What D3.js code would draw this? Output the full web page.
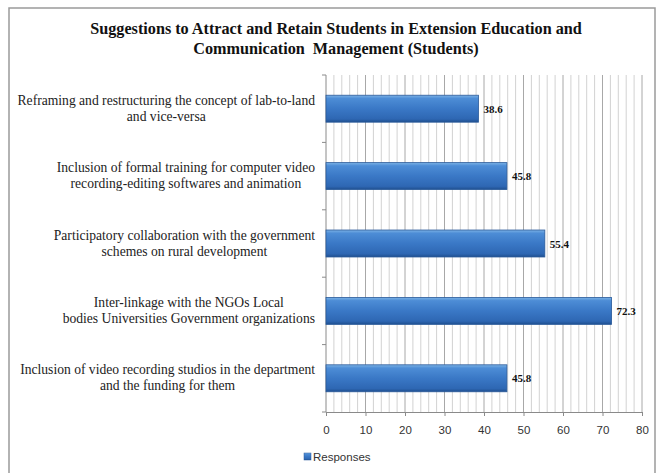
<!DOCTYPE html>
<html><head><meta charset="utf-8">
<script src="https://cdn.jsdelivr.net/npm/d3@7"></script>
<style>html,body{margin:0;padding:0;background:#fff;}svg{display:block;}
.serif{font-family:"Liberation Serif","Times New Roman","DejaVu Serif",serif;}
.sans{font-family:"Liberation Sans",Arial,sans-serif;}
</style>
</head><body>
<script>
const categories = [
  ["Reframing and restructuring the concept of lab-to-land", "and vice-versa"],
  ["Inclusion of formal training for computer video", "recording-editing softwares and animation"],
  ["Participatory collaboration with the government", "schemes on rural development"],
  ["Inter-linkage with the NGOs Local", "bodies Universities Government organizations"],
  ["Inclusion of video recording studios in the department", "and the funding for them"]
];
const values = [38.6, 45.8, 55.4, 72.3, 45.8];
const xTicks = [0, 10, 20, 30, 40, 50, 60, 70, 80];
const titleLines = ["Suggestions to Attract and Retain Students in Extension Education and", "Communication  Management (Students)"];
const seriesName = "Responses";

const W = 658, H = 473;
const svg = d3.select("body").append("svg").attr("width", W).attr("height", H);

svg.append("rect").attr("x", 9).attr("y", 8).attr("width", 646).attr("height", 480)
  .attr("fill", "#fff").attr("stroke", "#9a9a9a").attr("stroke-width", 1.5);

const m = {left: 326, right: 642, top: 75, bottom: 412};
const x = d3.scaleLinear().domain([0, 80]).range([m.left, m.right]);
const y = d3.scaleBand().domain(d3.range(categories.length)).range([m.top, m.bottom]).paddingInner(0.6).paddingOuter(0.3);

const defs = svg.append("defs");
const g = defs.append("linearGradient").attr("id", "barg").attr("x1", 0).attr("y1", 0).attr("x2", 0).attr("y2", 1);
[[0, "#7db3e6"], [0.12, "#4d8dd6"], [0.5, "#3a78c6"], [0.88, "#2e67b3"], [1, "#1f4f8f"]].forEach(([o, c]) =>
  g.append("stop").attr("offset", o).attr("stop-color", c));

const minor = d3.range(2, 81, 2).filter(v => v % 10 !== 0);
svg.append("g").selectAll("line").data(minor).join("line")
  .attr("x1", d => x(d)).attr("x2", d => x(d)).attr("y1", m.top).attr("y2", m.bottom)
  .attr("stroke", "#d2d2d2").attr("stroke-width", 1);
svg.append("g").selectAll("line").data(xTicks.slice(1)).join("line")
  .attr("x1", d => x(d)).attr("x2", d => x(d)).attr("y1", m.top).attr("y2", m.bottom)
  .attr("stroke", "#a8a8a8").attr("stroke-width", 1);

const xa = svg.append("g").attr("transform", `translate(0,${m.bottom})`)
  .call(d3.axisBottom(x).tickValues(xTicks).tickSize(4).tickPadding(10));
xa.attr("font-family", null);
xa.select(".domain").attr("stroke", "#8a8a8a");
xa.selectAll(".tick line").attr("stroke", "#8a8a8a");
xa.selectAll("text").attr("class", "sans").attr("font-size", 11.5).attr("fill", "#333");

svg.append("line").attr("x1", m.left).attr("x2", m.left).attr("y1", m.top).attr("y2", m.bottom).attr("stroke", "#8a8a8a");
const bounds = d3.range(categories.length + 1).map(i => m.top + i * (m.bottom - m.top) / categories.length);
svg.append("g").selectAll("line").data(bounds).join("line")
  .attr("x1", m.left - 4).attr("x2", m.left).attr("y1", d => d).attr("y2", d => d).attr("stroke", "#8a8a8a");

svg.append("g").selectAll("rect").data(values).join("rect")
  .attr("x", x(0)).attr("y", (d, i) => y(i)).attr("width", d => x(d) - x(0)).attr("height", y.bandwidth())
  .attr("fill", "url(#barg)").attr("stroke", "#2a5a9a").attr("stroke-width", 0.8);

svg.append("g").selectAll("text").data(values).join("text")
  .attr("class", "serif")
  .attr("x", d => x(d) + 5).attr("y", (d, i) => y(i) + y.bandwidth() / 2 + 4)
  .attr("font-weight", "bold").attr("font-size", 11).attr("fill", "#111").text(d => d.toFixed(1));

const labG = svg.append("g").attr("class", "serif").attr("font-size", 13.6).attr("fill", "#222");
categories.forEach((lines, i) => {
  const cy = y(i) + y.bandwidth() / 2;
  const t = labG.append("text");
  const tspans = lines.map((l, j) => t.append("tspan").attr("y", cy + (j - (lines.length - 1) / 2) * 16 + 4).text(l));
  const widths = tspans.map(s => s.node().getComputedTextLength());
  const maxW = Math.max(...widths);
  const cx = 315 - maxW / 2;
  tspans.forEach(s => s.attr("x", cx).attr("text-anchor", "middle"));
});

svg.append("g").selectAll("text").data(titleLines).join("text")
  .attr("class", "serif")
  .attr("x", 336).attr("y", (d, i) => 34 + i * 20).attr("text-anchor", "middle")
  .attr("font-weight", "bold").attr("font-size", 16.2).attr("fill", "#111")
  .style("white-space", "pre").text(d => d);

const lg = svg.append("g").attr("transform", "translate(304,457)");
lg.append("rect").attr("x", 0).attr("y", -4).attr("width", 7).attr("height", 7).attr("fill", "url(#barg)").attr("stroke", "#2a5a9a").attr("stroke-width", 0.5);
lg.append("text").attr("class", "sans").attr("x", 9).attr("y", 4).attr("font-size", 11.5).attr("fill", "#333").text(seriesName);
</script>
</body></html>
